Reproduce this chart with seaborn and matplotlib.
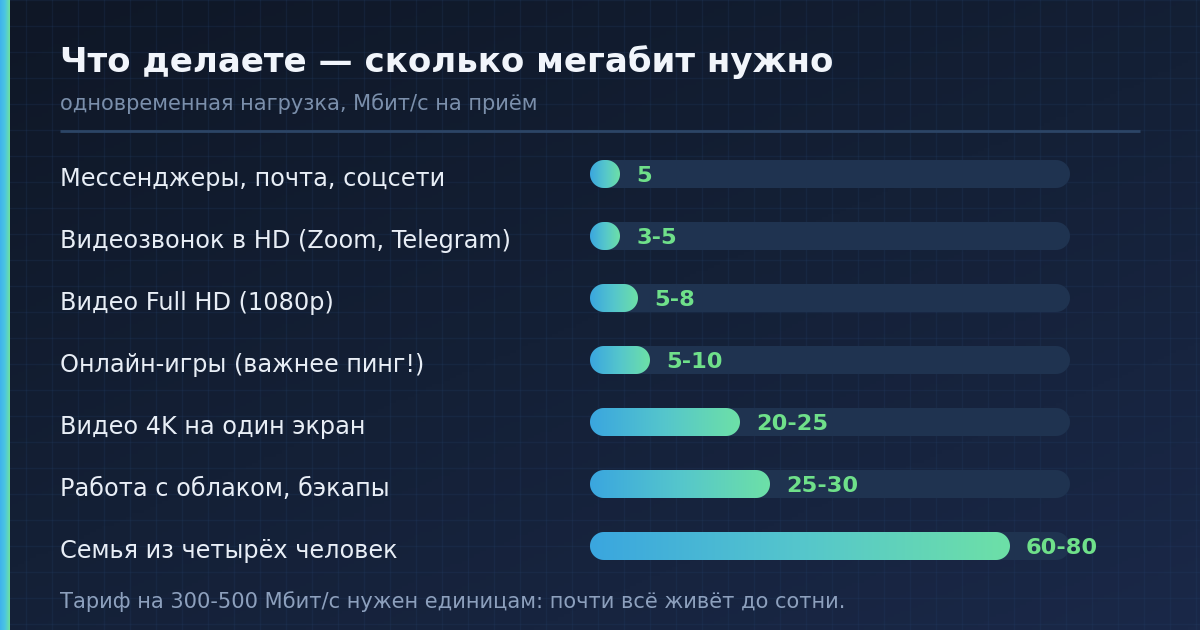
import numpy as np
import pandas as pd
import matplotlib
matplotlib.use("Agg")
import matplotlib.pyplot as plt
import seaborn as sns
from matplotlib.patches import Polygon
from matplotlib.colors import LinearSegmentedColormap
from matplotlib.transforms import blended_transform_factory

# ---- data ----
categories = [
    "Мессенджеры, почта, соцсети",
    "Видеозвонок в HD (Zoom, Telegram)",
    "Видео Full HD (1080p)",
    "Онлайн-игры (важнее пинг!)",
    "Видео 4K на один экран",
    "Работа с облаком, бэкапы",
    "Семья из четырёх человек",
]
values = [5, 5, 8, 10, 25, 30, 70]
value_labels = ["5", "3-5", "5-8", "5-10", "20-25", "25-30", "60-80"]
scale_max = 80
title = "Что делаете — сколько мегабит нужно"
subtitle = "одновременная нагрузка, Мбит/с на приём"
footer = "Тариф на 300-500 Мбит/с нужен единицам: почти всё живёт до сотни."

df = pd.DataFrame({"task": categories, "mbit": values, "label": value_labels})
track_df = pd.DataFrame({"task": categories, "mbit": [scale_max] * len(categories)})

sns.set_theme(style="white")
plt.rcParams["font.family"] = ["DejaVu Sans"]

W, H = 1200, 630
fig = plt.figure(figsize=(12, 6.3), dpi=100)

# ---- background ----
bg = fig.add_axes([0, 0, 1, 1], zorder=-10)
bg.set_xlim(0, W)
bg.set_ylim(H, 0)
bg.axis("off")
yy, xx = np.mgrid[0:1:200j, 0:1:200j]
t = (xx * 0.45 + yy * 0.55)
bg_cmap = LinearSegmentedColormap.from_list("bg", ["#0f1726", "#142036", "#1a2848"])
bg.imshow(t, cmap=bg_cmap, extent=[0, W, H, 0], aspect="auto", zorder=0)
for gx in range(0, W + 1, 26):
    bg.axvline(gx, color="#24406a", lw=1.0, alpha=0.22, zorder=1)
for gy in range(0, H + 1, 26):
    bg.axhline(gy, color="#24406a", lw=1.0, alpha=0.22, zorder=1)
strip = np.linspace(0, 1, 20).reshape(1, -1)
strip_cmap = LinearSegmentedColormap.from_list("strip", ["#3fb2ec", "#4cc6e2", "#6ee0a0"])
bg.imshow(strip, cmap=strip_cmap, extent=[0, 10, H, 0], aspect="auto", zorder=2)
bg.plot([60, 1140], [131, 131], color="#2c4566", lw=2, solid_capstyle="butt", zorder=3)

# ---- headings ----
fig.text(60 / W, 1 - 62 / H, title, fontsize=24.5, fontweight="bold", color="#f1f5fb",
         va="center", ha="left")
fig.text(60 / W, 1 - 104 / H, subtitle, fontsize=15.1, color="#7b8fab", va="center", ha="left")
fig.text(60 / W, 1 - 602 / H, footer, fontsize=15.1, color="#8da0bd", va="center", ha="left")

# ---- bars ----
row_h = 62
top = 143
n = len(categories)
ax = fig.add_axes([590 / W, 1 - (top + n * row_h) / H, 480 / W, n * row_h / H])
sns.barplot(data=track_df, x="mbit", y="task", ax=ax, color="#1f3350", width=28 / row_h,
            orient="h")
sns.barplot(data=df, x="mbit", y="task", ax=ax, color="#3ba7de", width=28 / row_h,
            orient="h")
ax.set_xlim(0, scale_max)
ax.set_ylim(n - 0.5, -0.5)
ax.axis("off")

px_per_x = 480 / scale_max
grad = np.linspace(0, 1, 256).reshape(1, -1)
bar_cmap = LinearSegmentedColormap.from_list("bar", ["#3aa6df", "#55c6cc", "#6de0a7"])


def stadium(x0, y0, w, h):
    """Pill shape (true semicircular ends in pixel space) in data coords."""
    ry = h / 2
    rx = (h * row_h) / 2 / px_per_x  # same pixel radius in x units
    rx = min(rx, w / 2)
    cy = y0 + ry
    th = np.linspace(-np.pi / 2, np.pi / 2, 40)
    right = np.column_stack([x0 + w - rx + rx * np.cos(th), cy + ry * np.sin(th)])
    th2 = np.linspace(np.pi / 2, 3 * np.pi / 2, 40)
    left = np.column_stack([x0 + rx + rx * np.cos(th2), cy + ry * np.sin(th2)])
    return np.vstack([right, left])


patches = list(ax.patches)
for i, p in enumerate(patches):
    x0, y0, w, h = p.get_x(), p.get_y(), p.get_width(), p.get_height()
    is_track = i < n
    p.remove()
    poly = Polygon(stadium(x0, y0, w, h), closed=True, lw=0,
                   facecolor="#1f3350" if is_track else "none",
                   zorder=1 if is_track else 2)
    ax.add_patch(poly)
    if not is_track:
        im = ax.imshow(grad, cmap=bar_cmap, extent=[x0, x0 + w, y0 + h, y0],
                       aspect="auto", zorder=2)
        im.set_clip_path(poly)

ax.set_xlim(0, scale_max)
ax.set_ylim(n - 0.5, -0.5)

trans_lab = blended_transform_factory(fig.transFigure, ax.transData)
for i, (cat, v, lab) in enumerate(zip(categories, values, value_labels)):
    ax.text(60 / W, i + 0.08, cat, transform=trans_lab, fontsize=17.3, color="#e8eef6",
            va="center", ha="left")
    ax.text(v + 16 / px_per_x, i + 0.03, lab, fontsize=16.2, fontweight="bold", color="#6fe08a",
            va="center", ha="left", zorder=5)

fig.savefig("out.png", dpi=100, facecolor="#0f1726")
